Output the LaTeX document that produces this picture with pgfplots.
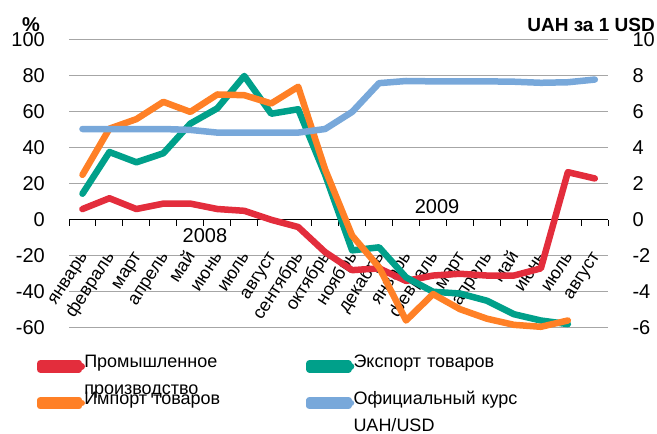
\documentclass[border=0pt]{standalone}
\usepackage{fontspec}
\setmainfont{Liberation Sans}
\usepackage{pgfplots}
\pgfplotsset{compat=1.18}
\definecolor{cred}{RGB}{227,45,60}
\definecolor{cteal}{RGB}{0,160,138}
\definecolor{corange}{RGB}{255,128,38}
\definecolor{cblue}{RGB}{120,168,218}
\definecolor{cgrid}{RGB}{166,166,166}
\begin{document}
\begin{tikzpicture}
\useasboundingbox (0bp,0bp) rectangle (657bp,434bp);
\begin{axis}[
  at={(69bp,106.3bp)}, anchor=south west,
  scale only axis, width=539.3bp, height=287.7bp,
  xmin=-0.5, xmax=19.5, ymin=-60, ymax=100,
  clip=false,
  axis x line*=middle, axis y line*=left,
  y axis line style={draw=none},
  x axis line style={black, line width=1bp},
  ytick={-60,-40,-20,0,20,40,60,80,100},
  yticklabels={-60,-40,-20,0,20,40,60,80,100},
  ymajorgrids, grid style={cgrid, line width=1bp},
  ytick style={draw=none},
  xtick={0,...,19},
  xticklabels={январь,февраль,март,апрель,май,июнь,июль,август,сентябрь,октябрь,ноябрь,декабрь,январь,февраль,март,апрель,май,июнь,июль,август},
  xtick style={draw=none},
  extra x ticks={-0.5,0.5,...,19.5},
  extra x tick labels={},
  extra x tick style={xtick style={draw=black, line width=1bp}, major tick length=6bp, tick align=outside, xmajorgrids=false},
  yticklabel style={font=\fontsize{20bp}{24bp}\selectfont, anchor=east, inner sep=0pt, xshift=-24bp},
  xticklabel style={font=\fontsize{18bp}{22bp}\selectfont, anchor=east, inner sep=0pt, text height=9.4bp, text depth=3.8bp, xshift=3bp, yshift=-35bp, rotate=57},
  legend columns=2,
  legend cell align=left,
  legend style={at={(-0.0593,-0.0876)}, anchor=north west, draw=none, fill=none,
    font=\fontsize{18bp}{27bp}\selectfont, inner sep=0pt, outer sep=0pt,
    column sep=0pt, row sep=16bp,
    cells={inner sep=0pt, text width=220bp, align=left, anchor=base west}},
  legend image code/.code={\path (0bp,-2bp) rectangle (38.75bp,4bp);
    \draw[#1, line width=6.5bp, line cap=round, overlay] (3.5bp,1bp) -- (41.5bp,1bp);},
  every axis plot/.append style={line width=6.5bp, line join=round, line cap=round},
]
\addplot[cred] coordinates {(0,6) (1,12) (2,6) (3,9) (4,9) (5,6) (6,5) (7,0) (8,-4) (9,-18) (10,-28) (11,-27) (12,-34) (13,-31) (14,-30) (15,-31) (16,-31) (17,-27) (18,26.5) (19,23)};
\addlegendentry{Промышленное\\производство}
\addplot[cteal] coordinates {(0,14.5) (1,37.7) (2,32) (3,37) (4,53.5) (5,62) (6,80) (7,59) (8,61.5) (9,25) (10,-17) (11,-15.3) (12,-32) (13,-40) (14,-41) (15,-45) (16,-52.5) (17,-56) (18,-58)};
\addlegendentry{Экспорт товаров}
\addplot[corange] coordinates {(0,25) (1,50.7) (2,56) (3,65.6) (4,60) (5,69.7) (6,69.3) (7,64.7) (8,74) (9,28) (10,-8.8) (11,-26.4) (12,-56) (13,-41.3) (14,-49.7) (15,-55) (16,-58.4) (17,-59.5) (18,-56)};
\addlegendentry{Импорт товаров}
\addlegendimage{cblue}
\addlegendentry{Официальный курс\\UAH/USD}
\node[font=\fontsize{20bp}{24bp}\selectfont] at (axis cs:4.54,-9) {2008};
\node[font=\fontsize{20bp}{24bp}\selectfont] at (axis cs:13.15,7.4) {2009};
\end{axis}
\begin{axis}[
  at={(69bp,106.3bp)}, anchor=south west,
  scale only axis, width=539.3bp, height=287.7bp,
  xmin=-0.5, xmax=19.5, ymin=-6, ymax=10,
  clip=false,
  axis x line=none, axis y line*=right,
  y axis line style={draw=none},
  ytick={-6,-4,-2,0,2,4,6,8,10},
  yticklabels={-6,-4,-2,0,2,4,6,8,10},
  ytick style={draw=none},
  yticklabel style={font=\fontsize{20bp}{24bp}\selectfont, anchor=west, inner sep=0pt, xshift=24bp},
]
\addplot[cblue, line width=6.5bp, line join=round, line cap=round] coordinates {(0,5.05) (1,5.05) (2,5.05) (3,5.05) (4,5.0) (5,4.85) (6,4.85) (7,4.85) (8,4.85) (9,5.05) (10,6.0) (11,7.6) (12,7.72) (13,7.7) (14,7.7) (15,7.7) (16,7.68) (17,7.62) (18,7.65) (19,7.8)};
\end{axis}
\node[font=\bfseries\fontsize{20bp}{24bp}\selectfont] at (31bp,409bp) {\%};
\node[font=\bfseries\fontsize{19bp}{23bp}\selectfont, anchor=east, inner sep=0pt] at (655bp,409bp) {UAH за 1 USD};
\end{tikzpicture}
\end{document}
